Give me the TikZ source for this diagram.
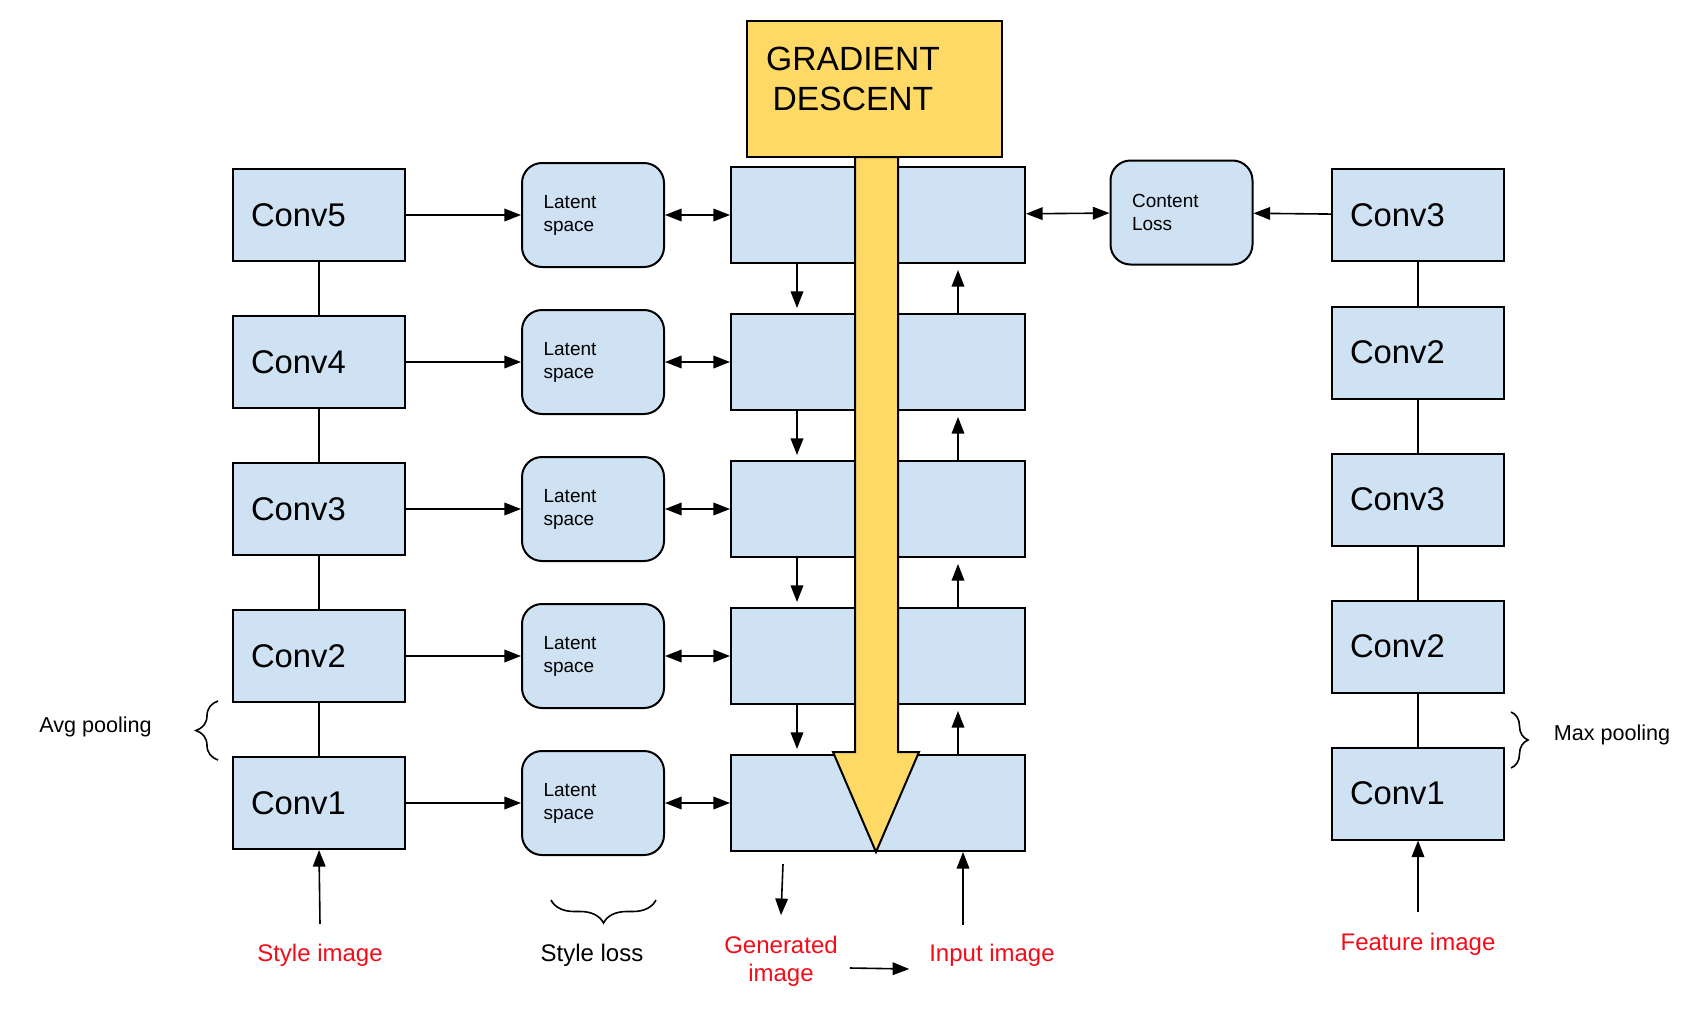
\documentclass[tikz,border=0pt]{standalone}
\usepackage{fontspec}
\setmainfont{Liberation Sans}
\usepackage{xcolor}
\usetikzlibrary{positioning, arrows.meta, decorations.pathreplacing}
\definecolor{boxblue}{HTML}{CFE2F3}
\definecolor{gdyellow}{HTML}{FFD966}
\definecolor{lblred}{HTML}{F20D1A}

\begin{document}
\begin{tikzpicture}[x=0.5pt, y=-0.5pt, node distance=73.5pt,
		conv/.style = {draw, line width=1pt, fill=boxblue, text width=68pt, inner xsep=9pt, minimum height=46pt, align=left, font=\fontsize{16.4}{18}\selectfont},
		latent/.style = {draw, line width=1pt, fill=boxblue, rounded corners=10pt, text width=49.4pt, inner xsep=10.8pt, minimum height=52pt, align=left, font=\fontsize{9.5}{11.5}\selectfont},
		mid/.style = {draw, line width=1pt, fill=boxblue, minimum width=147pt, minimum height=48pt},
		link/.style = {line width=0.8pt},
		arr/.style = {line width=0.8pt, -{Triangle[length=8.3pt, width=6.3pt]}},
		dbl/.style = {line width=0.8pt, {Triangle[length=8.3pt, width=6.3pt]}-{Triangle[length=8.3pt, width=6.3pt]}},
		redlbl/.style = {text=lblred, font=\fontsize{12}{14}\selectfont, align=center},
		lbl/.style = {font=\fontsize{10.8}{13}\selectfont}]
		\fill[white] (0,0) rectangle (1708,1012);

		% style branch
		\node[conv] (c5) at (319,215) {Conv5};
		\node[conv] (c4) [below of=c5] {Conv4};
		\node[conv] (c3) [below of=c4] {Conv3};
		\node[conv] (c2) [below of=c3] {Conv2};
		\node[conv] (c1) [below of=c2] {Conv1};

		\node[latent] (l5) at (593,215) {Latent\\space};
		\node[latent] (l4) [below of=l5] {Latent\\space};
		\node[latent] (l3) [below of=l4] {Latent\\space};
		\node[latent] (l2) [below of=l3] {Latent\\space};
		\node[latent] (l1) [below of=l2] {Latent\\space};

		% generated image
		\node[mid] (m5) at (878,215) {};
		\node[mid] (m4) [below of=m5] {};
		\node[mid] (m3) [below of=m4] {};
		\node[mid] (m2) [below of=m3] {};
		\node[mid] (m1) [below of=m2] {};

		% content branch
		\node[latent] (cl) at (1181.5,212.5) {Content\\Loss};
		\node[conv] (r5) at (1418,215) {Conv3};
		\node[conv] (r4) at (1418,352.5) {Conv2};
		\node[conv] (r3) [below of=r4] {Conv3};
		\node[conv] (r2) [below of=r3] {Conv2};
		\node[conv] (r1) [below of=r2] {Conv1};

		\draw[link] (c5) -- (c4);
		\draw[link] (c4) -- (c3);
		\draw[link] (c3) -- (c2);
		\draw[link] (c2) -- (c1);
		\draw[link] (r5) -- (r4);
		\draw[link] (r4) -- (r3);
		\draw[link] (r3) -- (r2);
		\draw[link] (r2) -- (r1);

		\draw[arr] (c5) -- (l5);
		\draw[arr] (c4) -- (l4);
		\draw[arr] (c3) -- (l3);
		\draw[arr] (c2) -- (l2);
		\draw[arr] (c1) -- (l1);
		\draw[dbl] (l5) -- (m5);
		\draw[dbl] (l4) -- (m4);
		\draw[dbl] (l3) -- (m3);
		\draw[dbl] (l2) -- (m2);
		\draw[dbl] (l1) -- (m1);
		\draw[dbl] (m5) -- (cl);
		\draw[arr] (r5) -- (cl);

		\draw[arr] ([xshift=-40.5pt]m5.south) -- ([xshift=-40.5pt,yshift=2.5pt]m4.north);
		\draw[arr] ([xshift=-40.5pt]m4.south) -- ([xshift=-40.5pt,yshift=2.5pt]m3.north);
		\draw[arr] ([xshift=-40.5pt]m3.south) -- ([xshift=-40.5pt,yshift=2.5pt]m2.north);
		\draw[arr] ([xshift=-40.5pt]m2.south) -- ([xshift=-40.5pt,yshift=2.5pt]m1.north);
		\draw[arr] ([xshift=40pt]m4.north) -- ([xshift=40pt,yshift=-3pt]m5.south);
		\draw[arr] ([xshift=40pt]m3.north) -- ([xshift=40pt,yshift=-3pt]m4.south);
		\draw[arr] ([xshift=40pt]m2.north) -- ([xshift=40pt,yshift=-3pt]m3.south);
		\draw[arr] ([xshift=40pt]m1.north) -- ([xshift=40pt,yshift=-3pt]m2.south);

		% gradient descent arrow
		\draw[line width=1pt, fill=gdyellow] (855,157) -- (855,752) -- (833,752) -- (876,852) -- (919,752) -- (898,752) -- (898,157) -- cycle;
		\node[draw, line width=1pt, fill=gdyellow, minimum width=127.5pt, minimum height=68pt] (gd) at (874.5,89) {};
		\node[font=\fontsize{16.8}{20}\selectfont, align=center] (gdtext) at (853,79) {GRADIENT\\DESCENT};

		% labels
		\node[redlbl] (simg) at (320,955) {Style image};
		\node[lbl, font=\fontsize{12}{14}\selectfont] (sloss) at (592,955) {Style loss};
		\node[redlbl] (gen) at (781,961) {Generated\\image};
		\node[redlbl] (inp) at (992,955) {Input image};
		\node[redlbl] (feat) at (1418,944) {Feature image};
		\node[lbl] (avg) at (95.5,727) {Avg pooling};
		\node[lbl] (maxp) at (1612,735) {Max pooling};

		\draw[arr] ([yshift=6.5pt]simg.north) -- (c1.south);
		\draw[arr] ([yshift=6.8pt]feat.north) -- (r1.south);
		\draw[arr] ([xshift=-14.5pt,yshift=5.9pt]inp.north) -- ([xshift=42.5pt]m1.south);
		\draw[arr] ([xshift=-47.5pt,yshift=-6pt]m1.south) -- ([yshift=6.8pt]gen.north);
		\draw[arr] ([xshift=2.5pt,yshift=-3.5pt]gen.east) -- ([xshift=-6.5pt,yshift=-7pt]inp.west);

		\draw[link, decorate, decoration={brace, amplitude=11pt}] (218,760) -- (218,701);
		\draw[link, decorate, decoration={brace, amplitude=8.5pt}] (1511,712) -- (1511,768);
		\draw[link, decorate, decoration={brace, amplitude=11.5pt}] (656,900) -- (551,900);
	\end{tikzpicture}
\end{document}
